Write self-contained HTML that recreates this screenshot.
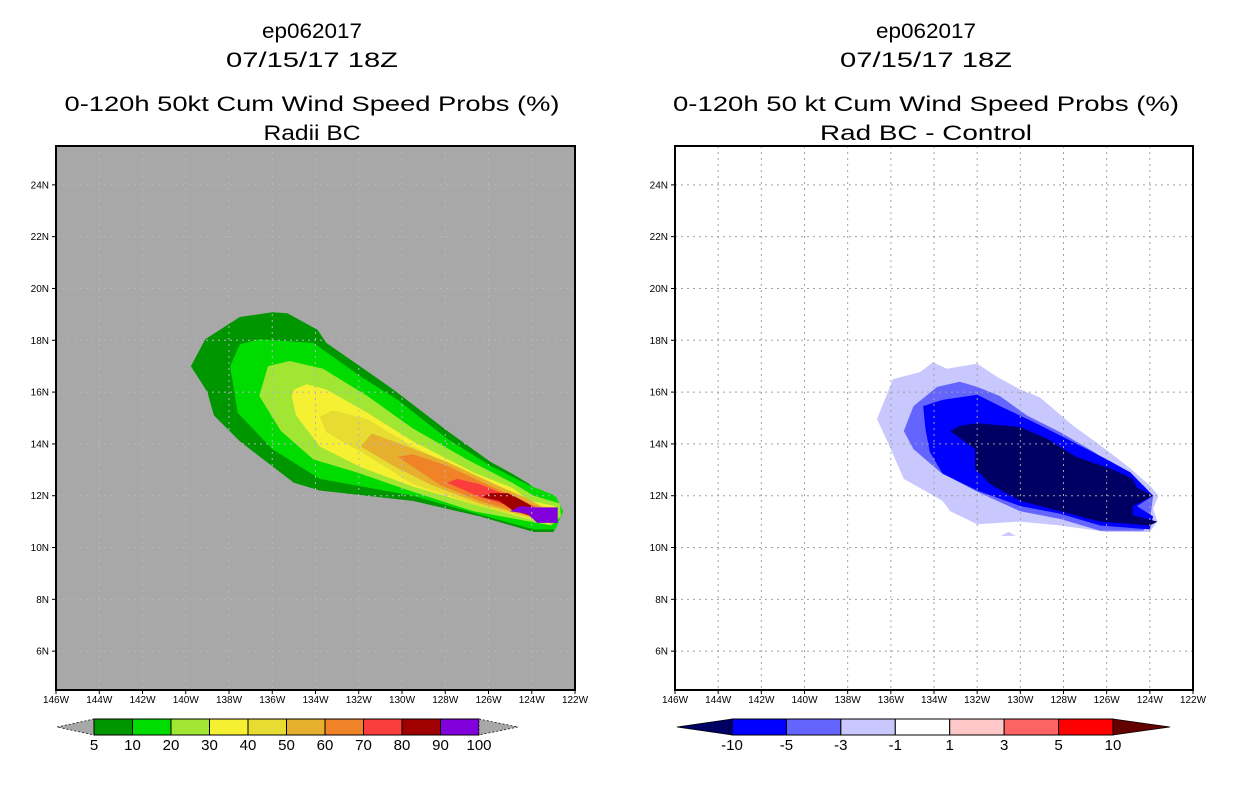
<!DOCTYPE html>
<html><head><meta charset="utf-8"><style>
body{margin:0;background:#fff;}
svg{display:block;font-family:"Liberation Sans",sans-serif;}
</style></head><body>
<svg id="s" width="1236" height="800" viewBox="0 0 1236 800"></svg>
<script>
// ---- data ----
const lonTicks=[146,144,142,140,138,136,134,132,130,128,126,124,122];
const latTicks=[6,8,10,12,14,16,18,20,22,24];
const leftLevels=['5','10','20','30','40','50','60','70','80','90','100'];
const leftColors=['#009600','#00dc00','#a0e632','#f5f032','#e6dc32','#e6af2d','#f08228','#fa3c3c','#a00000','#8200dc'];
const rightLevels=['-10','-5','-3','-1','1','3','5','10'];
const rightColors=['#000064','#0000ff','#6464ff','#c8c8ff','#ffffff','#ffc8c8','#ff6464','#ff0000','#640000'];
// contour polygons [lon W, lat N]
const prob5=[[139.76,17.0],[139.1,18.04],[137.5,18.9],[136.0,19.08],[135.3,19.04],[133.9,18.4],[133.5,17.9],[131.6,16.8],[130.4,16.1],[127.9,14.5],[125.9,13.3],[124.9,12.85],[124.1,12.45],[123.6,12.0],[122.55,11.4],[123.0,10.6],[123.9,10.6],[126.4,11.2],[129.5,11.8],[133.8,12.2],[135.0,12.5],[137.5,14.1],[138.7,15.1],[139.0,16.0]];
const prob10=[[137.95,17.0],[137.5,17.85],[136.6,18.04],[134.1,17.9],[131.9,16.6],[130.2,15.7],[127.9,14.2],[125.9,13.15],[124.1,12.4],[122.9,12.0],[122.55,11.4],[122.9,10.7],[123.9,10.7],[126.1,11.2],[129.5,12.0],[133.8,12.65],[136.0,13.8],[137.6,15.2]];
const prob20=[[136.6,15.85],[136.2,17.0],[135.2,17.2],[133.65,16.9],[131.6,15.85],[129.5,14.6],[127.0,13.4],[124.9,12.5],[123.9,12.0],[122.7,11.7],[122.65,11.2],[123.1,10.85],[126.7,11.4],[129.5,12.15],[132.1,12.9],[134.1,13.4],[135.6,14.5]];
const prob30=[[135.1,15.85],[135.0,16.1],[134.4,16.3],[133.5,16.1],[131.6,15.2],[129.5,14.1],[126.7,12.9],[124.9,12.3],[124.1,11.8],[122.9,11.6],[122.8,11.2],[123.2,10.9],[126.4,11.6],[129.5,12.35],[131.9,13.1],[133.8,13.9],[134.9,15.1]];
const prob40=[[133.8,15.05],[133.2,15.3],[131.6,14.95],[129.5,13.9],[126.7,12.75],[124.9,12.1],[124.1,11.8],[123.1,11.5],[123.25,10.95],[126.4,11.6],[129.5,12.45],[131.6,13.55],[133.5,14.45]];
const prob50=[[131.9,13.9],[131.4,14.4],[130.4,14.1],[127.9,13.3],[125.6,12.4],[124.2,11.9],[123.2,11.4],[123.3,11.0],[126.4,11.7],[128.6,12.4],[130.4,13.15]];
const prob60=[[130.2,13.5],[129.5,13.6],[127.9,13.15],[126.1,12.45],[124.4,11.8],[123.2,11.4],[123.4,11.05],[126.4,11.8],[128.2,12.4]];
const prob70=[[127.9,12.5],[127.45,12.65],[126.4,12.45],[125.1,12.0],[123.3,11.35],[123.5,11.1],[125.0,11.6],[126.4,11.95]];
const prob80=[[126.3,11.95],[125.9,12.1],[125.1,12.1],[124.4,11.8],[123.4,11.3],[123.6,11.1],[124.9,11.45],[125.5,11.8]];
const prob90=[[125.0,11.4],[124.55,11.6],[123.9,11.55],[122.8,11.55],[122.8,10.95],[123.75,10.95],[124.2,11.3]];
const diffM1=[[136.64,14.96],[135.9,16.5],[134.65,16.77],[134.05,17.15],[133.4,16.9],[132.0,17.1],[131.1,16.6],[130.0,16.1],[129.1,15.8],[127.55,14.7],[126.3,13.95],[125.05,13.15],[124.0,12.4],[123.6,12.0],[123.85,11.5],[123.65,11.0],[124.0,10.6],[126.0,10.6],[128.15,10.85],[130.0,11.0],[132.0,10.9],[133.25,11.4],[133.6,11.8],[135.4,12.65],[136.0,13.8]];
const diffM1b=[[130.9,10.45],[130.55,10.6],[130.2,10.45]];
const diffM3=[[135.4,14.5],[134.95,15.46],[133.85,16.2],[132.8,16.4],[132.0,16.2],[130.95,15.85],[129.7,15.1],[128.15,14.45],[126.6,13.7],[125.4,13.0],[124.3,12.4],[123.85,12.0],[124.0,11.0],[124.3,10.65],[126.3,10.65],[128.15,11.1],[130.0,11.4],[132.0,12.15],[133.7,12.9],[134.95,13.8]];
const diffM5=[[134.4,14.6],[134.5,15.46],[133.6,15.7],[132.0,15.9],[130.8,15.4],[129.4,14.85],[127.85,14.2],[126.0,13.4],[124.9,12.9],[123.85,12.0],[124.6,11.6],[123.85,11.2],[124.0,10.7],[126.3,10.85],[128.15,11.3],[130.0,11.6],[132.0,12.2],[133.6,12.85],[134.2,13.7]];
const diffM10=[[133.25,14.5],[132.8,14.7],[132.0,14.8],[130.0,14.65],[128.75,14.2],[127.4,13.5],[125.7,13.0],[124.8,12.65],[124.6,12.3],[123.85,12.0],[124.8,11.6],[124.8,11.25],[123.65,11.0],[124.0,10.85],[126.3,11.0],[128.15,11.4],[130.0,11.8],[131.4,12.45],[132.1,13.05],[132.1,13.8]];

const NS='http://www.w3.org/2000/svg';
const svg=document.getElementById('s');
function mk(tag,attrs,parent){const e=document.createElementNS(NS,tag);for(const k in attrs)e.setAttribute(k,attrs[k]);(parent||svg).appendChild(e);return e;}
const plotTop=146,plotBot=690,latMin=4.5,latMax=25.5;
function panel(x0,x1){
  const xs=lon=>x0+(146-lon)*(x1-x0)/24;
  const ys=lat=>plotTop+(latMax-lat)*(plotBot-plotTop)/(latMax-latMin);
  return {xs,ys,x0,x1};
}
function text(x,y,str,size,anchor,name,len){
  const t=mk('text',{x:x,y:y,'font-size':size,'text-anchor':anchor||'middle',fill:'#000'});
  if(len){t.setAttribute('textLength',len);t.setAttribute('lengthAdjust','spacingAndGlyphs');}
  t.textContent=str;
  
  
  return t;
}
function poly(P,pts,fill,name){
  const p=mk('polygon',{points:pts.map(d=>P.xs(d[0]).toFixed(1)+','+P.ys(d[1]).toFixed(1)).join(' '),fill:fill});
  
  
}
function drawPanel(P,bg,gridColor,polys,cols,names,title1,title2,cx){
  text(cx,38,'ep062017',21,'middle','title-storm-id',100);
  text(cx,67,'07/15/17 18Z',21,'middle','title-date',172);
  text(cx,111,title1[0],21,'middle','title-product',title1[1]);
  text(cx,140,title2[0],21,'middle','title-subtitle',title2[1]);
  const r=mk('rect',{x:P.x0,y:plotTop,width:P.x1-P.x0,height:plotBot-plotTop,fill:bg});
  
  
  polys.forEach((pp,i)=>poly(P,pp,cols[i],names[i]));
  lonTicks.slice(1,-1).forEach(l=>{const g=mk('line',{x1:P.xs(l),x2:P.xs(l),y1:plotTop,y2:plotBot,stroke:gridColor,'stroke-width':1,'stroke-dasharray':'2,4'});
    });
  latTicks.forEach(l=>{const g=mk('line',{x1:P.x0,x2:P.x1,y1:P.ys(l),y2:P.ys(l),stroke:gridColor,'stroke-width':1,'stroke-dasharray':'2,4'});
    });
  const f=mk('rect',{x:P.x0,y:plotTop,width:P.x1-P.x0,height:plotBot-plotTop,fill:'none',stroke:'#000','stroke-width':2});
  
  
  lonTicks.forEach(l=>{mk('line',{x1:P.xs(l),x2:P.xs(l),y1:plotBot,y2:plotBot+4,stroke:'#000'});
    text(P.xs(l),plotBot+13,l+'W',10,'middle','lon-tick-label');});
  latTicks.forEach(l=>{mk('line',{x1:P.x0-4,x2:P.x0,y1:P.ys(l),y2:P.ys(l),stroke:'#000'});
    text(P.x0-7,P.ys(l)+3.5,l+'N',10,'end','lat-tick-label');});
}
const L=panel(56,575), R=panel(675,1193);
drawPanel(L,'#a8a8a8','#b4b4c8',[prob5,prob10,prob20,prob30,prob40,prob50,prob60,prob70,prob80,prob90],leftColors,
  ['contour-5','contour-10','contour-20','contour-30','contour-40','contour-50','contour-60','contour-70','contour-80','contour-90'],
  ['0-120h 50kt Cum Wind Speed Probs (%)',495],['Radii BC',97],312);
drawPanel(R,'#ffffff','#a0a0a0',[diffM1,diffM1b,diffM3,diffM5,diffM10],['#c8c8ff','#c8c8ff','#6464ff','#0000ff','#000064'],
  ['contour-minus1','contour-minus1-blob','contour-minus3','contour-minus5','contour-minus10'],
  ['0-120h 50 kt Cum Wind Speed Probs (%)',506],['Rad BC - Control',212],926);

function colorbar(xs,xe,tl,tr,cols,labels,first,last,name,dashed){
  const n=cols.length,w=(xe-xs)/n,y0=719,y1=735,ym=727;
  const st={stroke:'#000','stroke-width':0.7};
  if(dashed)st['stroke-dasharray']='2,2';
  const a=mk('polygon',Object.assign({points:`${tl},${ym} ${xs},${y0} ${xs},${y1}`,fill:first},st));
  
  cols.forEach((c,i)=>{const r=mk('rect',{x:xs+i*w,y:y0,width:w,height:y1-y0,fill:c,stroke:'#000','stroke-width':1});
    });
  const b=mk('polygon',Object.assign({points:`${xe},${y0} ${tr},${ym} ${xe},${y1}`,fill:last},st));
  
  labels.forEach((l,i)=>text(xs+i*w,y1+15,l,15,'middle',name+'-label'));
}
colorbar(94,479,57,518,leftColors,leftLevels,'#a8a8a8','#a8a8a8','left-colorbar',true);
colorbar(732,1113,677,1170,rightColors.slice(1,8),rightLevels,rightColors[0],rightColors[8],'right-colorbar',false);
</script>
</body></html>
